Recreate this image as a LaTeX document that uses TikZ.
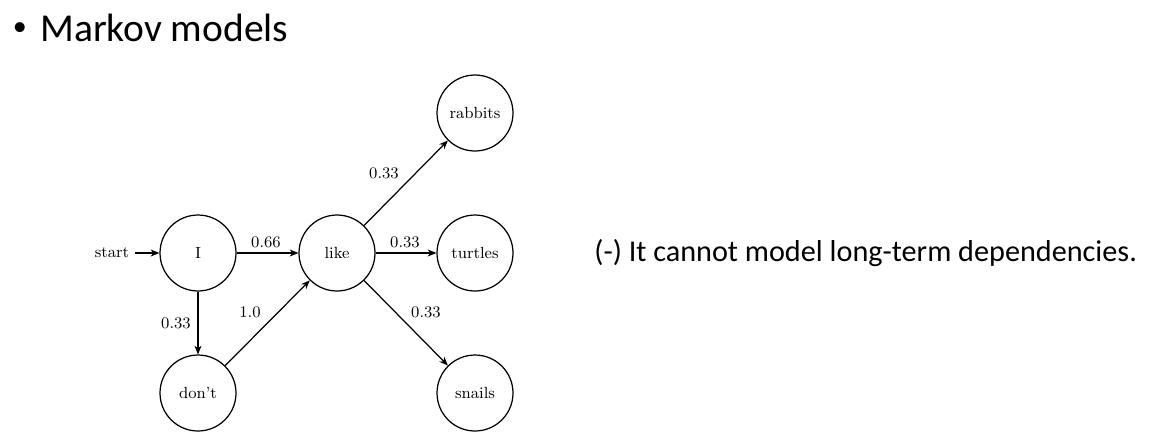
\documentclass[tikz,border=0pt]{standalone}
\usepackage{fontspec}
\newfontfamily\slidefont{Carlito}
\usepackage{tikz}
\usetikzlibrary{positioning,arrows.meta}

\begin{document}
\begin{tikzpicture}[x=0.02cm, y=-0.02cm,
  state/.style={circle, draw, line width=0.7pt, minimum size=1.52cm, inner sep=0pt,
    font=\fontsize{9.2}{11}\selectfont},
  trans/.style={-{Stealth[length=5pt,width=4pt]}, line width=0.7pt},
  prob/.style={font=\fontsize{9.2}{11}\selectfont}]
\useasboundingbox (0,0) rectangle (1151,440);
% slide text
\node[font=\slidefont\fontsize{16}{20}\selectfont] (dot) at (20,29) {\textbullet};
\node[anchor=west, inner sep=0pt, font=\slidefont\fontsize{22.5}{26}\selectfont] (title) at (40,28) {Markov models};
\node[anchor=west, inner sep=0pt, font=\slidefont\fontsize{17.2}{20}\selectfont] (note) at (594,253) {(-) It cannot model long-term dependencies.};
% states
\node[state] (I) at (198,253) {I};
\node[state] (like) at (337,253) {like};
\node[state] (dont) at (198,393) {don't};
\node[state] (rabbits) at (475,113) {rabbits};
\node[state] (turtles) at (475,253) {turtles};
\node[state] (snails) at (475,393) {snails};
\node[prob] (start) at (112,253) {start};
% transitions
\draw[trans] (start) -- (I);
\draw[trans] (I) -- (like);
\draw[trans] (I) -- (dont);
\draw[trans] (dont) -- (like);
\draw[trans] (like) -- (rabbits);
\draw[trans] (like) -- (turtles);
\draw[trans] (like) -- (snails);
% probabilities
\node[prob] (p1) at (266,242) {0.66};
\node[prob] (p2) at (176,323) {0.33};
\node[prob] (p3) at (250,312) {1.0};
\node[prob] (p4) at (384,173) {0.33};
\node[prob] (p5) at (405,242) {0.33};
\node[prob] (p6) at (426,312) {0.33};
\end{tikzpicture}
\end{document}
